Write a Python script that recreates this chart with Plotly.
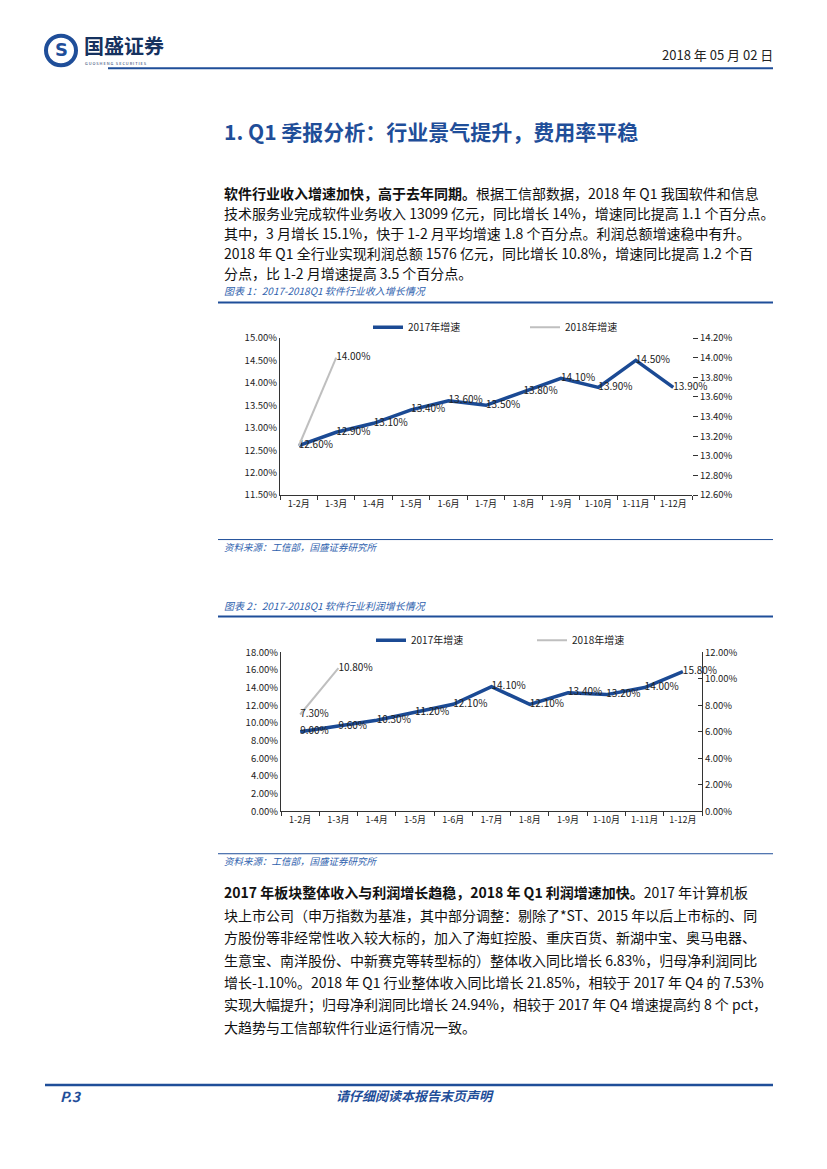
import plotly.graph_objects as go

# ---------------- data ----------------
months = ["1-2月", "1-3月", "1-4月", "1-5月", "1-6月", "1-7月",
          "1-8月", "1-9月", "1-10月", "1-11月", "1-12月"]

rev_2017 = [12.6, 12.9, 13.1, 13.4, 13.6, 13.5, 13.8, 14.1, 13.9, 14.5, 13.9]
rev_2018 = [13.1, 14.0]
rev_2018_labels = ["", "14.00%"]

prof_2017 = [9.0, 9.6, 10.3, 11.2, 12.1, 14.1, 12.1, 13.4, 13.2, 14.0, 15.8]
prof_2018 = [7.3, 10.8]

series_names = ["2017年增速", "2018年增速"]

W, H = 827, 1169
BLUE = "#1B4A94"
NAVY = "#1F4E99"
CAP = "#2F62AE"
GRAY = "#BFBFBF"
FONT = "Noto Sans CJK SC"


def px(x):
    return x / W


def py(y):
    return 1 - y / H


fig = go.Figure()

lab_font = dict(size=10, color="#222", family=FONT)

# chart 1
fig.add_trace(go.Scatter(
    x=months, y=rev_2017, name=series_names[0], mode="lines+text",
    line=dict(color=BLUE, width=3.5), text=[f"{v:.2f}%" for v in rev_2017],
    textposition="middle right", textfont=lab_font,
    xaxis="x", yaxis="y", legend="legend", cliponaxis=False))
fig.add_trace(go.Scatter(
    x=months[:len(rev_2018)], y=rev_2018, name=series_names[1], mode="lines+text",
    line=dict(color=GRAY, width=2), text=rev_2018_labels,
    textposition="middle right", textfont=lab_font,
    xaxis="x", yaxis="y2", legend="legend", cliponaxis=False))

# chart 2
fig.add_trace(go.Scatter(
    x=months, y=prof_2017, name=series_names[0], mode="lines+text",
    line=dict(color=BLUE, width=3.5), text=[f"{v:.2f}%" for v in prof_2017],
    textposition="middle right", textfont=lab_font,
    xaxis="x2", yaxis="y3", legend="legend2", cliponaxis=False))
fig.add_trace(go.Scatter(
    x=months[:len(prof_2018)], y=prof_2018, name=series_names[1], mode="lines+text",
    line=dict(color=GRAY, width=2), text=[f"{v:.2f}%" for v in prof_2018],
    textposition="middle right", textfont=lab_font,
    xaxis="x2", yaxis="y4", legend="legend2", cliponaxis=False))

tickfont = dict(size=9.5, color="#222", family=FONT)
xtickfont = dict(size=9, color="#222", family=FONT)

fig.update_layout(
    width=W, height=H, margin=dict(l=0, r=0, t=0, b=0),
    paper_bgcolor="white", plot_bgcolor="rgba(0,0,0,0)",
    font=dict(family=FONT, color="#222"),
    xaxis=dict(domain=[px(280), px(692)], anchor="y", type="category",
               showline=True, linecolor="#333", linewidth=1, showgrid=False,
               ticks="outside", ticklen=4, tickson="boundaries", tickcolor="#333",
               tickfont=xtickfont, tickangle=0, range=[-0.5, 10.5]),
    yaxis=dict(domain=[py(493), py(334)], anchor="x", range=[11.5, 15.0], dtick=0.5,
               tickformat=".2f", ticksuffix="%", showline=True, linecolor="#333",
               linewidth=1, showgrid=False, zeroline=False, tickfont=tickfont, ticks=""),
    yaxis2=dict(overlaying="y", side="right", anchor="x", range=[12.6, 14.2], dtick=0.2,
                tickformat=".2f", ticksuffix="%", showline=False, showgrid=False,
                zeroline=False, ticks="outside", ticklen=5, tickcolor="#333",
                tickfont=tickfont),
    xaxis2=dict(domain=[px(281), px(702)], anchor="y3", type="category",
                showline=True, linecolor="#333", linewidth=1, showgrid=False,
                ticks="outside", ticklen=4, tickson="boundaries", tickcolor="#333",
                tickfont=xtickfont, tickangle=0, range=[-0.5, 10.5]),
    yaxis3=dict(domain=[py(813), py(652)], anchor="x2", range=[0, 18], dtick=2,
                tickformat=".2f", ticksuffix="%", showline=True, linecolor="#333",
                linewidth=1, showgrid=False, zeroline=False, tickfont=tickfont, ticks=""),
    yaxis4=dict(overlaying="y3", side="right", anchor="x2", range=[0, 12], dtick=2,
                tickformat=".2f", ticksuffix="%", showline=True, linecolor="#333",
                linewidth=1, showgrid=False, zeroline=False, ticks="inside", ticklen=4,
                tickcolor="#333", tickfont=tickfont),
    legend=dict(orientation="h", x=px(368), y=py(323), xanchor="left", yanchor="middle",
                font=dict(size=10, color="#222", family=FONT), entrywidth=112,
                bgcolor="rgba(0,0,0,0)", itemwidth=30),
    legend2=dict(orientation="h", x=px(371), y=py(640), xanchor="left", yanchor="middle",
                 font=dict(size=10, color="#222", family=FONT), entrywidth=116,
                 bgcolor="rgba(0,0,0,0)", itemwidth=30),
)

shapes = []
ann = []


def hline(y, x0, x1, color=NAVY, width=1.0):
    shapes.append(dict(type="line", xref="paper", yref="paper", x0=px(x0), x1=px(x1),
                       y0=py(y), y1=py(y), line=dict(color=color, width=width)))


def text(x, y, s, size=14, color="#111", anchor="left", bold=False, italic=False,
         family=FONT):
    ann.append(dict(x=px(x), y=py(y), xref="paper", yref="paper", text=s,
                    showarrow=False, xanchor=anchor, yanchor="middle",
                    font=dict(size=size, color=color, family=family,
                              weight="bold" if bold else "normal",
                              style="italic" if italic else "normal")))


# header
shapes.append(dict(type="circle", xref="paper", yref="paper", x0=px(46), x1=px(76),
                   y0=py(58), y1=py(28), line=dict(color=NAVY, width=4)))
text(61, 42, "<b>S</b>", size=18, color=NAVY, anchor="center", family="DejaVu Sans")
text(82, 38, "国盛证券", size=20, color="#16325F", bold=True)
text(83, 56, "G U O S H E N G   S E C U R I T I E S", size=4, color="#16325F")
text(775, 47, "2018 年 05 月 02 日", size=13, color="#222", anchor="right")
hline(61, 108, 773, NAVY, 2)

# title
text(222, 124, "1. Q1 季报分析：行业景气提升，费用率平稳", size=21, color=NAVY, bold=True)

# paragraph 1
p1 = [
    "<b>软件行业收入增速加快，高于去年同期。</b>根据工信部数据，2018 年 Q1 我国软件和信息",
    "技术服务业完成软件业务收入 13099 亿元，同比增长 14%，增速同比提高 1.1 个百分点。",
    "其中，3 月增长 15.1%，快于 1-2 月平均增速 1.8 个百分点。利润总额增速稳中有升。",
    "2018 年 Q1 全行业实现利润总额 1576 亿元，同比增长 10.8%，增速同比提高 1.2 个百",
    "分点，比 1-2 月增速提高 3.5 个百分点。",
]
for i, line in enumerate(p1):
    text(222, 187 + 20.3 * i, line, size=14, color="#111")

# chart 1 frame
text(222, 286, "图表 1：2017-2018Q1 软件行业收入增长情况", size=10, color=CAP, italic=True)
hline(298, 218, 773, NAVY, 2)
hline(538, 218, 773, NAVY, 1)
text(222, 546, "资料来源：工信部，国盛证券研究所", size=9.5, color=CAP, italic=True)

# chart 2 frame
text(222, 605, "图表 2：2017-2018Q1 软件行业利润增长情况", size=10, color=CAP, italic=True)
hline(616, 218, 773, NAVY, 2)
hline(856, 218, 773, NAVY, 1)
text(222, 863, "资料来源：工信部，国盛证券研究所", size=9.5, color=CAP, italic=True)

# paragraph 2
p2 = [
    "<b>2017 年板块整体收入与利润增长趋稳，2018 年 Q1 利润增速加快。</b>2017 年计算机板",
    "块上市公司（申万指数为基准，其中部分调整：剔除了*ST、2015 年以后上市标的、同",
    "方股份等非经常性收入较大标的，加入了海虹控股、重庆百货、新湖中宝、奥马电器、",
    "生意宝、南洋股份、中新赛克等转型标的）整体收入同比增长 6.83%，归母净利润同比",
    "增长-1.10%。2018 年 Q1 行业整体收入同比增长 21.85%，相较于 2017 年 Q4 的 7.53%",
    "实现大幅提升；归母净利润同比增长 24.94%，相较于 2017 年 Q4 增速提高约 8 个 pct，",
    "大趋势与工信部软件行业运行情况一致。",
]
for i, line in enumerate(p2):
    text(222, 895 + 22.7 * i, line, size=14, color="#111")

# footer
hline(1090, 45, 773, NAVY, 2.5)
text(58, 1101, "P.3", size=14, color=NAVY, bold=True, italic=True)
text(415, 1101, "请仔细阅读本报告末页声明", size=13, color=NAVY, bold=True, italic=True,
     anchor="center")

fig.update_layout(shapes=shapes, annotations=ann)

fig.write_html("out.html", config={"displayModeBar": False},
               post_script="document.body.style.margin='0';")
